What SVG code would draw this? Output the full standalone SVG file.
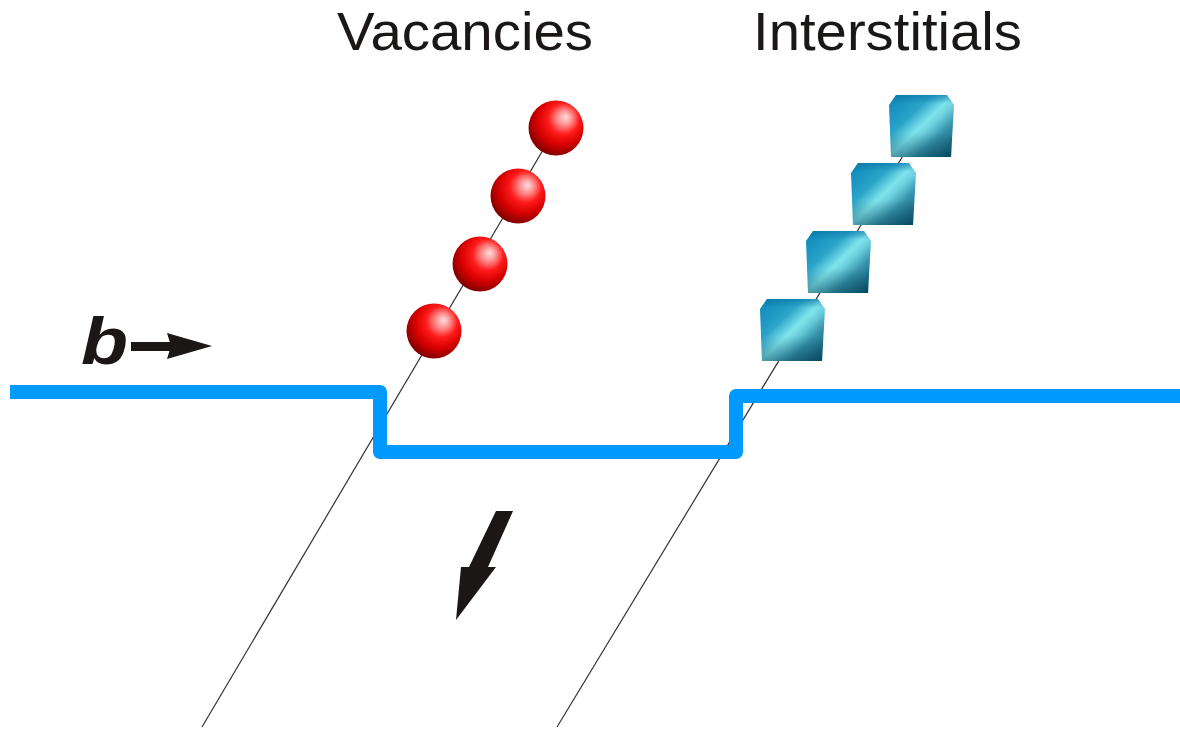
<svg xmlns="http://www.w3.org/2000/svg" width="1180" height="729" viewBox="0 0 1180 729">
  <style>
    .label { font-family: "Liberation Sans", Arial, sans-serif; font-size: 53px; fill: #1a1716; }
    .vec { font-family: "Liberation Sans", Arial, sans-serif; font-size: 67px; font-weight: bold; font-style: italic; fill: #1a1716; }
    .trace { stroke: #333; stroke-width: 1.2; fill: none; }
    .step { stroke: #0099ff; stroke-width: 14; fill: none; stroke-linejoin: round; }
    .ink { fill: #1a1716; }
  </style>
  <defs>
    <radialGradient id="sphereFill" cx="0.58" cy="0.38" r="0.72" fx="0.68" fy="0.3">
      <stop offset="0" stop-color="#ffdede"/>
      <stop offset="0.18" stop-color="#ff9090"/>
      <stop offset="0.4" stop-color="#ff1a1a"/>
      <stop offset="0.64" stop-color="#d60000"/>
      <stop offset="0.87" stop-color="#8a0000"/>
      <stop offset="1" stop-color="#5a0000"/>
    </radialGradient>
    <linearGradient id="cubeFill" x1="0" y1="0" x2="1" y2="1">
      <stop offset="0" stop-color="#0a84b8"/>
      <stop offset="0.33" stop-color="#2aa4c8"/>
      <stop offset="0.5" stop-color="#80e4ec"/>
      <stop offset="0.58" stop-color="#6ccedc"/>
      <stop offset="0.72" stop-color="#3592aa"/>
      <stop offset="1" stop-color="#07506c"/>
    </linearGradient>
    <linearGradient id="cubeShade" x1="0" y1="0" x2="0" y2="1">
      <stop offset="0" stop-color="#0a6fa0" stop-opacity="0.55"/>
      <stop offset="0.14" stop-color="#0a6fa0" stop-opacity="0"/>
      <stop offset="0.6" stop-color="#003548" stop-opacity="0"/>
      <stop offset="1" stop-color="#003548" stop-opacity="0.4"/>
    </linearGradient>
    <path id="cubeShape" d="M7,0 H58 L65,10 L62,62 H2 L0,10 Z"/>
  </defs>

  <rect width="1180" height="729" fill="#ffffff"/>

  <g id="connectors">
    <line class="trace" x1="202" y1="727" x2="556" y2="128"/>
    <line class="trace" x1="557" y1="727" x2="921" y2="126"/>
  </g>

  <g id="slip-step">
    <path class="step" d="M10,392 H380 V452 H736 V396 H1180"/>
  </g>

  <g id="vacancies">
    <text class="label" x="337" y="50" textLength="256" lengthAdjust="spacingAndGlyphs">Vacancies</text>
    <circle cx="556" cy="128" r="27.5" fill="url(#sphereFill)"/>
    <circle cx="518" cy="196" r="27.5" fill="url(#sphereFill)"/>
    <circle cx="480" cy="264" r="27.5" fill="url(#sphereFill)"/>
    <circle cx="434" cy="331" r="27.5" fill="url(#sphereFill)"/>
  </g>

  <g id="interstitials">
    <text class="label" x="753" y="50" textLength="269" lengthAdjust="spacingAndGlyphs">Interstitials</text>
    <g transform="translate(889,95)"><use href="#cubeShape" fill="url(#cubeFill)"/><use href="#cubeShape" fill="url(#cubeShade)"/></g>
    <g transform="translate(851,163)"><use href="#cubeShape" fill="url(#cubeFill)"/><use href="#cubeShape" fill="url(#cubeShade)"/></g>
    <g transform="translate(806,231)"><use href="#cubeShape" fill="url(#cubeFill)"/><use href="#cubeShape" fill="url(#cubeShade)"/></g>
    <g transform="translate(760,299)"><use href="#cubeShape" fill="url(#cubeFill)"/><use href="#cubeShape" fill="url(#cubeShade)"/></g>
  </g>

  <g id="burgers-vector">
    <text class="vec" x="81" y="364" textLength="47" lengthAdjust="spacingAndGlyphs">b</text>
    <rect class="ink" x="131" y="342" width="40" height="9"/>
    <polygon class="ink" points="167,333 212,346 167,359 171,346"/>
  </g>

  <g id="motion-arrow">
    <polygon class="ink" points="496,511 513,511 488,567 496,567 456,620 461,567 469,567"/>
  </g>
</svg>
